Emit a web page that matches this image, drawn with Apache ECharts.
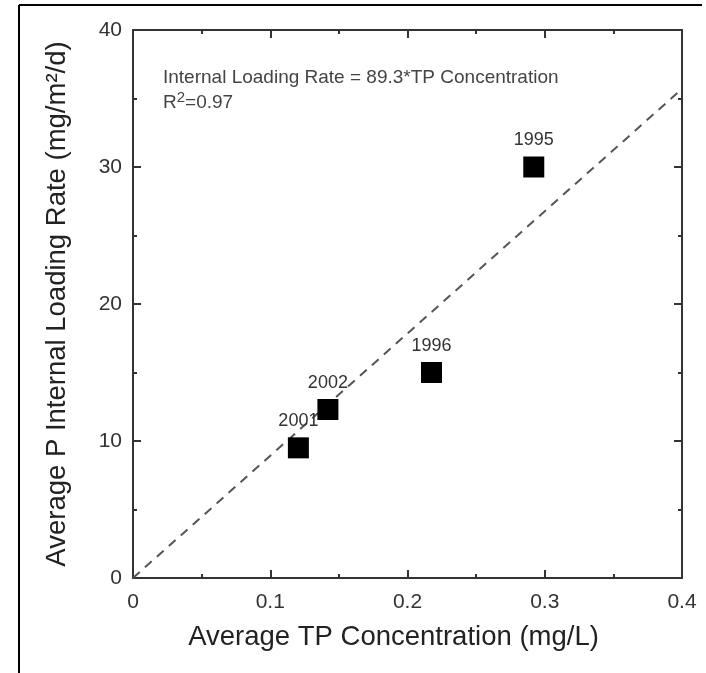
<!DOCTYPE html>
<html>
<head>
<meta charset="utf-8">
<script src="https://cdn.jsdelivr.net/npm/echarts@6/dist/echarts.min.js"></script>
<style>
  html, body { margin: 0; padding: 0; background: #fff; }
  #chart { width: 706px; height: 673px; }
</style>
</head>
<body>
<div id="chart"></div>
<script>
// points
var years = ['1995', '1996', '2002', '2001'];
var tpConc = [0.292, 0.2175, 0.142, 0.1205];
var loadRate = [30.0, 15.0, 12.3, 9.5];
// regression line end points (Internal Loading Rate = 89.3*TP)
var fitX = [0, 0.4];
var fitY = [0, 35.7];

var font = 'Liberation Sans, Arial, Helvetica, sans-serif';
var axisColor = '#333';

var chart = echarts.init(document.getElementById('chart'));

var points = years.map(function (y, i) {
  return { name: y, value: [tpConc[i], loadRate[i]] };
});
var fitLine = fitX.map(function (x, i) {
  return [x, fitY[i]];
});

function frameAxis(extra) {
  var base = {
    type: 'value',
    axisLine: { show: true, onZero: false, lineStyle: { color: axisColor, width: 2 } },
    axisTick: { show: true, inside: true, length: 8, lineStyle: { color: axisColor, width: 2 } },
    minorTick: { show: true, splitNumber: 2, length: 4, lineStyle: { color: axisColor, width: 2 } },
    splitLine: { show: false },
    minorSplitLine: { show: false }
  };
  for (var k in extra) base[k] = extra[k];
  return base;
}

var option = {
  backgroundColor: '#fff',
  animation: false,
  grid: { left: 133, top: 30, right: 24, bottom: 95 },
  xAxis: [
    frameAxis({
      position: 'bottom', min: 0, max: 0.4, interval: 0.1,
      name: 'Average TP Concentration (mg/L)',
      nameLocation: 'middle', nameGap: 45,
      nameTextStyle: { fontFamily: font, fontSize: 27.5, color: '#222', padding: [0, 28, 0, 0] },
      axisLabel: { fontFamily: font, fontSize: 21, color: '#333', margin: 14 }
    }),
    frameAxis({
      position: 'top', min: 0, max: 0.4, interval: 0.1,
      axisLabel: { show: false }
    })
  ],
  yAxis: [
    frameAxis({
      position: 'left', min: 0, max: 40, interval: 10,
      name: 'Average P Internal Loading Rate (mg/m\u00b2/d)',
      nameLocation: 'middle', nameGap: 62,
      nameTextStyle: { fontFamily: font, fontSize: 27.5, color: '#222' },
      axisLabel: { fontFamily: font, fontSize: 21, color: '#333', margin: 11 }
    }),
    frameAxis({
      position: 'right', min: 0, max: 40, interval: 10,
      axisLabel: { show: false }
    })
  ],
  graphic: [
    { type: 'line', shape: { x1: 19, y1: 5, x2: 702, y2: 5 }, style: { stroke: '#000', lineWidth: 2 } },
    { type: 'line', shape: { x1: 19, y1: 5, x2: 19, y2: 673 }, style: { stroke: '#000', lineWidth: 2 } },
    {
      type: 'text', left: 163, top: 65,
      style: {
        text: 'Internal Loading Rate = 89.3*TP Concentration\nR{sup|2}=0.97',
        fontFamily: font, fontSize: 19, lineHeight: 25, fill: '#444',
        rich: {
          sup: { fontFamily: font, fontSize: 15, fill: '#444', verticalAlign: 'top', lineHeight: 18 }
        }
      }
    }
  ],
  series: [
    {
      type: 'line',
      data: fitLine,
      showSymbol: false,
      lineStyle: { color: '#555', width: 2, type: [9, 7] },
      z: 1
    },
    {
      type: 'scatter',
      data: points,
      symbol: 'rect',
      symbolSize: 21,
      itemStyle: { color: '#000', opacity: 1 },
      label: {
        show: true, position: 'top', distance: 7,
        formatter: '{b}',
        fontFamily: font, fontSize: 18, color: '#333'
      },
      z: 3
    }
  ]
};

chart.setOption(option);
</script>
</body>
</html>
